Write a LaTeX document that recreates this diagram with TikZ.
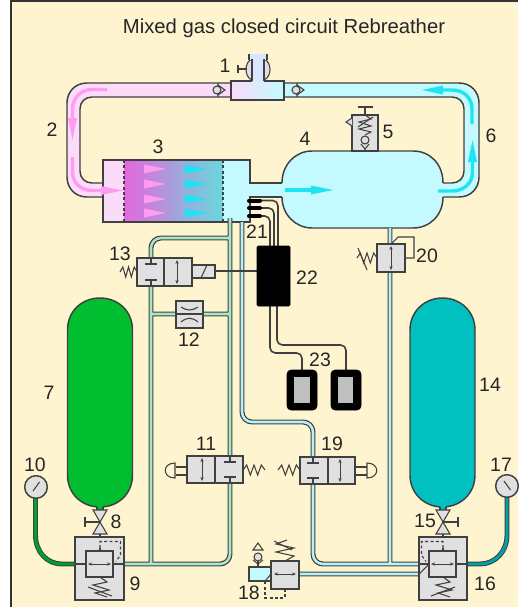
\documentclass[tikz,border=0pt]{standalone}
\usepackage{fontspec}
\setmainfont{Liberation Sans}
\usetikzlibrary{arrows.meta}
\definecolor{bgc}{HTML}{FFF4D0}
\definecolor{ol}{HTML}{404040}
\definecolor{pinkf}{HTML}{FADCFA}
\definecolor{cyanf}{HTML}{C4FAFF}
\definecolor{boxg}{HTML}{E0E0E0}
\definecolor{gpipe}{HTML}{A8E8C8}
\definecolor{cpipe}{HTML}{B8F2F8}
\definecolor{pinka}{HTML}{FF9CF0}
\definecolor{cyana}{HTML}{20E4F4}
\definecolor{magf}{HTML}{E468DC}
\definecolor{midf}{HTML}{A0A4E0}
\definecolor{tealf}{HTML}{68D8DC}
\definecolor{gasg}{HTML}{00BE30}
\definecolor{gast}{HTML}{00C0C0}
\definecolor{stemc}{HTML}{D8E6FF}
\tikzset{
  ln/.style={draw=ol,line width=1.1pt},
  thn/.style={draw=ol,line width=0.8pt},
  gbox/.style={ln,fill=boxg},
  dsh/.style={draw=ol,line width=0.85pt,dash pattern=on 2.2pt off 1.8pt},
  dbl/.style={draw=ol,line width=0.65pt,{Stealth[length=3pt,width=2.4pt]}-{Stealth[length=3pt,width=2.4pt]}},
  wire/.style={draw=ol,line width=1.2pt,rounded corners=4pt},
  sens/.style={draw=black,line width=3pt,line cap=round},
  lab/.style={inner sep=0pt,font=\fontsize{14.6}{17}\selectfont,text=black!85},
  stripP/.style={draw=pinka,line width=2.6pt},
  stripC/.style={draw=cyana,line width=2.6pt}
}
\newcommand\hspr[3]{\pgfmathsetmacro\ddx{(#2-#1)/6}\draw[thn] (#1,#3) -- ++(\ddx,-5) -- ++(\ddx,10) -- ++(\ddx,-10) -- ++(\ddx,10) -- ++(\ddx,-10) -- ++(\ddx,5);}
\newcommand\tsym[3]{\draw[thn] (#1,#2) -- (#1,#3) (#1-6,#3) -- (#1+6,#3);}
\newcommand\chk[2]{\draw[thn,fill=boxg] (#1+1,#2-5) -- (#1+8,#2) -- (#1+1,#2+5) (#1+1,#2-7) -- (#1+1,#2+7); \draw[thn,fill=boxg] (#1,#2) circle[radius=3pt];}
\newcommand\piped[2]{\draw[draw=ol,line width=3.7pt,rounded corners=7.5pt] #2; \draw[draw=#1,line width=1.9pt,rounded corners=7.5pt] #2;}
\begin{document}
\begin{tikzpicture}[x=0.75pt,y=-0.75pt]
\useasboundingbox (0,0) rectangle (518,607);
\fill[white] (0,0) rectangle (518,607);
\fill[bgc] (11,1) rectangle (518,607);
\draw[draw=black!80,line width=0.8pt] (11,607) -- (11,1) -- (518,1);
\node[lab,font=\fontsize{15.2}{18}\selectfont] (title) at (284,28) {Mixed gas closed circuit Rebreather};

% breathing loop
\path[ln,fill=pinkf] (231,83) -- (87,83) .. controls (75,83) and (67,92) .. (67,103) -- (67,177) .. controls (67,188) and (75,197) .. (87,197) -- (110,197) -- (110,183) -- (92,183) .. controls (85,183) and (80,178) .. (80,171) -- (80,109) .. controls (80,102) and (85,97) .. (92,97) -- (231,97) -- cycle;
\path[ln,fill=cyanf] (284,83) -- (459,83) .. controls (471,83) and (479,92) .. (479,103) -- (479,177) .. controls (479,188) and (471,197) .. (459,197) -- (435,197) -- (435,183) -- (452,183) .. controls (459,183) and (464,178) .. (464,171) -- (464,109) .. controls (464,102) and (459,97) .. (452,97) -- (284,97) -- cycle;

% mouthpiece
\draw[thn,fill=boxg] (252,59) .. controls (244,62) and (244,77) .. (252,80) -- cycle;
\draw[thn,fill=boxg] (264,59) .. controls (272,62) and (272,77) .. (264,80) -- cycle;
\fill[stemc] (249,54) rectangle (267,59.5);
\fill[stemc] (252,59) rectangle (264,82);
\draw[ln] (249,54) -- (249,60) (267,54) -- (267,60) (252,59) -- (252,81) (264,59) -- (264,81);
\draw[thn] (246.5,69) -- (238,69) (238,65) -- (238,73);
\shade[left color=pinkf,middle color=stemc,right color=cyanf] (231,81) rectangle (284,100);
\draw[ln] (252,81) -- (231,81) -- (231,100) -- (284,100) -- (284,81) -- (264,81);
\chk{217}{90}
\chk{296}{90}

% tank 4
\fill[cyanf] (282,183) .. controls (282,164) and (296,151) .. (312,151) -- (413,151) .. controls (430,151) and (443,164) .. (443,183) -- (443,197) .. controls (443,215) and (430,228) .. (413,228) -- (312,228) .. controls (296,228) and (282,215) .. (282,197) -- cycle;
\draw[ln] (282,183) .. controls (282,164) and (296,151) .. (312,151) -- (413,151) .. controls (430,151) and (443,164) .. (443,183);
\draw[ln] (443,197) .. controls (443,215) and (430,228) .. (413,228) -- (312,228) .. controls (296,228) and (282,215) .. (282,197);

% scrubber 3
\fill[pinkf] (103,160) rectangle (124,222);
\shade[left color=magf,middle color=midf,right color=tealf] (124,160) rectangle (223,222);
\fill[cyanf] (223,160) rectangle (250,222);
\fill[cyanf] (250,183) rectangle (290,197);
\draw[ln] (282,183) -- (250,183) -- (250,160) -- (103,160) -- (103,222) -- (250,222) -- (250,197) -- (282,197);
\draw[dsh] (124,160) -- (124,222) (223,160) -- (223,222);
\foreach \yy in {169,184,199,213}{
  \fill[pinka] (144,\yy-4.5) -- (166,\yy) -- (144,\yy+4.5) -- cycle;
  \fill[cyana] (185,\yy-4.5) -- (207,\yy) -- (185,\yy+4.5) -- cycle;
}

% flow arrows
\draw[stripP] (107,89.5) -- (92,89.5) .. controls (81,89.5) and (72.5,98) .. (72.5,109) -- (72.5,118);
\fill[pinka] (68,118) -- (77,118) -- (72.5,140) -- cycle;
\draw[stripP] (72.5,157) -- (72.5,172) .. controls (72.5,183) and (81,190.5) .. (92,190.5) -- (102,190.5);
\fill[pinka] (101,186) -- (123,190.5) -- (101,195) -- cycle;
\draw[stripC] (443,90) -- (452,90) .. controls (464,90) and (472,98) .. (472,109) -- (472,124);
\fill[cyana] (443,85.5) -- (422,90) -- (443,94.5) -- cycle;
\draw[stripC] (438,191) -- (452,191) .. controls (464,191) and (472.5,183) .. (472.5,172) -- (472.5,162);
\fill[cyana] (468,162) -- (477,162) -- (472.5,140) -- cycle;
\draw[stripC] (285,190) -- (312,190);
\fill[cyana] (311,185.5) -- (333,190) -- (311,194.5) -- cycle;

% thin gas pipes
\draw[draw=ol,line width=3.7pt] (35.5,498) -- (35.5,535) .. controls (35.5,552) and (47,564) .. (62,564) -- (76,564);
\draw[draw=gasg!85!black,line width=2.2pt] (35.5,498) -- (35.5,535) .. controls (35.5,552) and (47,564) .. (62,564) -- (76,564);
\draw[draw=ol,line width=3.7pt] (507,497) -- (507,535) .. controls (507,552) and (495,564) .. (480,564) -- (466,564);
\draw[draw=gast!85!black,line width=2.2pt] (507,497) -- (507,535) .. controls (507,552) and (495,564) .. (480,564) -- (466,564);
\piped{gpipe}{(124,564) -- (230,564) -- (230,218) (151,564) -- (151,238) -- (229,238) (151,314) -- (229,314)}
\piped{cpipe}{(242,222) -- (242,422) -- (313,422) -- (313,564) -- (419,564) (390,564) -- (390,228) (299,574) -- (419,574)}

% cylinders
\draw[ln,fill=gasg] (67.5,330) .. controls (67.5,311) and (82,298) .. (100,298) .. controls (118,298) and (132.5,311) .. (132.5,330) -- (132.5,475) .. controls (132.5,494) and (118,507) .. (100,507) .. controls (82,507) and (67.5,494) .. (67.5,475) -- cycle;
\draw[ln,fill=gast] (410,330) .. controls (410,311) and (425,298) .. (442.5,298) .. controls (460,298) and (475,311) .. (475,330) -- (475,475) .. controls (475,494) and (460,507) .. (442.5,507) .. controls (425,507) and (410,494) .. (410,475) -- cycle;
\fill[gasg] (97,506) rectangle (103,511);
\fill[gast] (440,506) rectangle (446,511);
\draw[thn] (97,507) -- (97,511) (103,507) -- (103,511) (440,507) -- (440,511) (446,507) -- (446,511);

% hand valves 8, 15
\draw[thn,fill=boxg] (93,510) -- (107,510) -- (93,534) -- (107,534) -- cycle;
\draw[thn] (100,522) -- (85,522) (85,517) -- (85,527) (100,534) -- (100,537);
\draw[thn,fill=boxg] (436,510) -- (450,510) -- (436,534) -- (450,534) -- cycle;
\draw[thn] (443,522) -- (458,522) (458,517) -- (458,527) (443,534) -- (443,537);

% regulator 9
\draw[gbox] (75,537) rectangle (124,600);
\draw[ln] (86,551) rectangle (113,577);
\draw[thn] (75,564) -- (86,564) (113,564) -- (124,564);
\draw[dbl] (88,564) -- (111,564);
\draw[thn] (100,551) -- (100,548);
\draw[dsh] (100,548) -- (100,541.5) -- (120.5,541.5) -- (120.5,555) -- (116,561.5);
\draw[thn] (100,577) -- (107,582) -- (93,585) -- (109,590) -- (95,593) -- (107,597);
\draw[thn] (88,587) -- (112,596);

% regulator 16
\draw[gbox] (419,537) rectangle (467,600);
\draw[ln] (429,551) rectangle (456,577);
\draw[thn] (419,564) -- (429,564) (456,564) -- (467,564);
\draw[thn] (419,574) -- (429,564);
\draw[dbl] (431,564) -- (454,564);
\draw[thn] (443,551) -- (443,548);
\draw[dsh] (443,548) -- (443,541.5) -- (421.5,541.5) -- (421.5,555) -- (426,561.5);
\draw[thn] (443,577) -- (450,582) -- (436,585) -- (452,590) -- (438,593) -- (450,597);
\draw[thn] (431,596) -- (455,587);

% gauges
\draw[ln,fill=boxg] (36,487) circle[radius=8.5pt];
\draw[thn] (33,491) -- (39.5,482);
\draw[ln,fill=boxg] (507,486) circle[radius=8.5pt];
\draw[thn] (510.5,490) -- (504,481);

% valve 11
\hspr{243}{265}{470}
\draw[thn] (187,467) -- (176,467) (187,475) -- (176,475);
\draw[thn,fill=bgc] (175,463) .. controls (162,463) and (162,478) .. (175,478) -- cycle;
\draw[gbox] (187,456) rectangle (243,483);
\draw[ln] (215,456) -- (215,483);
\draw[dbl] (202,458) -- (202,481);
\tsym{230}{456}{462}
\tsym{230}{483}{477}

% valve 19
\hspr{300}{278}{470}
\draw[thn] (355,467) -- (367,467) (355,475) -- (367,475);
\draw[thn,fill=bgc] (367,463) .. controls (380,463) and (380,478) .. (367,478) -- cycle;
\draw[gbox] (300,457) rectangle (355,484);
\draw[ln] (328,457) -- (328,484);
\draw[dbl] (340,459) -- (340,482);
\tsym{313}{457}{463}
\tsym{313}{484}{478}

% valve 13
\hspr{137}{120}{272}
\draw[gbox] (137,258) rectangle (192,286);
\draw[ln] (164,258) -- (164,286);
\draw[dbl] (177,260) -- (177,284);
\tsym{151}{258}{264}
\tsym{151}{286}{280}
\draw[gbox] (192,265) rectangle (215,278);
\draw[thn] (201,278) -- (207,265);

% restrictor 12
\draw[gbox] (176,301) rectangle (203,328);
\draw[thn] (176,314) -- (203,314);
\draw[thn] (181,307) .. controls (187,311) and (192,311) .. (198,307);
\draw[thn] (181,322) .. controls (187,317) and (192,317) .. (198,322);

% relief valve 5
\draw[gbox] (352,115) rectangle (378,151);
\draw[thn] (365,115) -- (365,107) (358,107) -- (373,107);
\draw[thn,fill=boxg] (352,118) -- (346,122) -- (352,126);
\draw[thn] (365,115) -- (371,119) -- (359,122) -- (371,126) -- (359,129) -- (371,132) -- (365,135);
\draw[thn] (358,127) -- (373,117);
\draw[thn,fill=boxg] (365,140) circle[radius=3pt];
\draw[thn] (361,144) -- (365,149) -- (369,144) (365,149) -- (365,151);

% valve 20
\hspr{377}{357}{258}
\draw[thn] (358,248) -- (367,270);
\draw[thn] (391,244) -- (398,237) -- (414,237) -- (414,258) -- (405,258);
\draw[gbox] (377,244) rectangle (405,272);
\draw[dbl] (391,246) -- (391,270);

% valve 18
\draw[ln,fill=cyanf] (249,567) rectangle (272,581);
\draw[thn] (258,567) -- (258,561);
\draw[thn] (253,560) -- (258,564) -- (263,560);
\draw[thn,fill=boxg] (258,557) circle[radius=3pt];
\draw[thn] (253,550) -- (258,543) -- (263,550) -- cycle;
\draw[gbox] (271,561) rectangle (299,589);
\draw[dbl] (274,574) -- (296,574);
\draw[thn] (285,561) -- (294,556) -- (276,552) -- (294,548) -- (276,544) -- (287,540);
\draw[thn] (274,541) -- (292,550);
\draw[thn] (271,574) -- (266,580);
\draw[dsh] (285,589) -- (285,598) -- (265,598) -- (265,581);

% oxygen sensors and controller
\draw[wire] (260,200.5) -- (278,200.5) -- (278,246);
\draw[wire] (260,208) -- (274,208) -- (274,246);
\draw[wire] (260,216) -- (270,216) -- (270,246);
\draw[sens] (249,200.5) -- (260,200.5);
\draw[sens] (249,208) -- (260,208);
\draw[sens] (249,216) -- (260,216);
\draw[thn] (215,271) -- (257,271);
\draw[wire] (270,306) -- (270,353) -- (302,353) -- (302,370);
\draw[wire] (277,306) -- (277,345) -- (346,345) -- (346,370);
\draw[fill=black,draw=black,rounded corners=1pt] (257,246) rectangle (290,306);
\draw[fill=black,draw=black,rounded corners=3pt] (287,370) rectangle (317,410);
\draw[fill=black,draw=black,rounded corners=3pt] (331,370) rectangle (361,410);
\fill[black!25] (294,377) rectangle (310,403);
\fill[black!25] (338,377) rectangle (353,403);

% labels
\node[lab] (n1) at (225,66) {1};
\node[lab] (n2) at (52,130) {2};
\node[lab] (n3) at (158,147) {3};
\node[lab] (n4) at (305,139) {4};
\node[lab] (n5) at (388,132) {5};
\node[lab] (n6) at (491,136) {6};
\node[lab] (n7) at (49,393) {7};
\node[lab] (n8) at (116,522) {8};
\node[lab] (n9) at (135,584) {9};
\node[lab] (n10) at (35,465) {10};
\node[lab] (n11) at (206,444) {11};
\node[lab] (n12) at (189,340) {12};
\node[lab] (n13) at (120,254) {13};
\node[lab] (n14) at (490,385) {14};
\node[lab] (n15) at (425,521) {15};
\node[lab] (n16) at (485,584) {16};
\node[lab] (n17) at (501,465) {17};
\node[lab] (n18) at (249,593) {18};
\node[lab] (n19) at (332,444) {19};
\node[lab] (n20) at (427,256) {20};
\node[lab] (n21) at (257,232) {21};
\node[lab] (n22) at (307,278) {22};
\node[lab] (n23) at (320,360) {23};
\end{tikzpicture}
\end{document}
